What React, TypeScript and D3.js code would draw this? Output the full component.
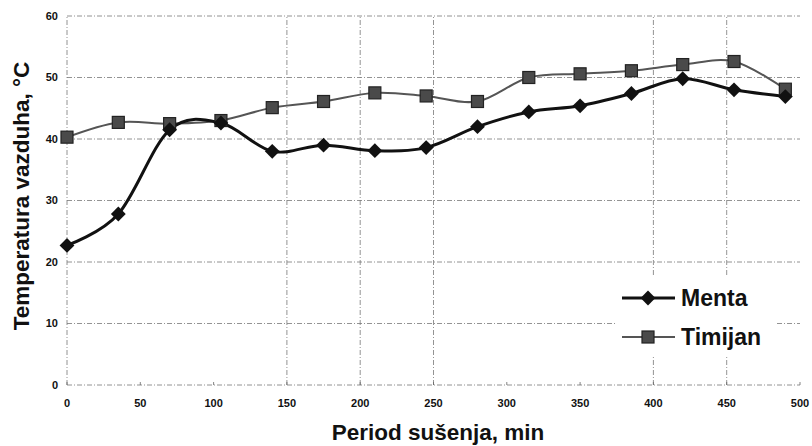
import React, { useEffect } from 'react';
import * as d3 from 'd3';

// drying time, min
const minutes = [0, 35, 70, 105, 140, 175, 210, 245, 280, 315, 350, 385, 420, 455, 490];
const menta = [22.7, 27.8, 41.5, 42.6, 38.0, 39.0, 38.1, 38.6, 42.0, 44.4, 45.4, 47.4, 49.8, 48.0, 46.9];
const timijan = [40.3, 42.7, 42.5, 43.0, 45.1, 46.1, 47.5, 47.0, 46.1, 50.0, 50.6, 51.1, 52.1, 52.6, 48.1];

const xTicks = [0, 50, 100, 150, 200, 250, 300, 350, 400, 450, 500];
const yTicks = [0, 10, 20, 30, 40, 50, 60];
// only these vertical grid lines are visible in the original
const xGrid = [0, 150, 200, 250, 400, 450];

const W = 812;
const H = 446;
const font = '"Liberation Sans", Arial, sans-serif';

export default function App() {
  useEffect(() => {
    document.body.style.margin = '0';
  }, []);

  const x = d3.scaleLinear().domain([0, 500]).range([67, 800]);
  const y = d3.scaleLinear().domain([0, 60]).range([385, 16]);

  const line = d3
    .line<number>()
    .x((_, i) => x(minutes[i]))
    .y((d) => y(d))
    .curve(d3.curveCatmullRom.alpha(0));

  const gridStyle = { stroke: '#777', strokeWidth: 0.8, strokeDasharray: '5,2,1,2' };
  const diamond = d3.symbol(d3.symbolDiamond2, 140)();
  const sq = 12;

  return (
    <svg width={W} height={H} style={{ display: 'block', background: '#fff' }} fontFamily={font}>
      {/* grid */}
      {yTicks.map((t) => (
        <line key={'h' + t} x1={x(0)} x2={x(500)} y1={y(t)} y2={y(t)} {...gridStyle} />
      ))}
      {xGrid.map((t) => (
        <line key={'v' + t} x1={x(t)} x2={x(t)} y1={y(0)} y2={y(60)} {...gridStyle} />
      ))}
      {xTicks.map((t) => (
        <line key={'xt' + t} x1={x(t)} x2={x(t)} y1={y(0)} y2={y(0) - 3} stroke="#666" strokeWidth={0.8} />
      ))}

      {/* tick labels */}
      {yTicks.map((t) => (
        <text key={'yl' + t} x={58} y={y(t)} dy="0.35em" textAnchor="end" fontSize={11} fontWeight="bold" fill="#111">
          {t}
        </text>
      ))}
      {xTicks.map((t) => (
        <text key={'xl' + t} x={x(t)} y={403} dy="0.35em" textAnchor="middle" fontSize={11} fontWeight="bold" fill="#111">
          {t}
        </text>
      ))}

      {/* series */}
      <path d={line(timijan) || ''} fill="none" stroke="#555" strokeWidth={2} />
      <path d={line(menta) || ''} fill="none" stroke="#111" strokeWidth={3} />
      {timijan.map((v, i) => (
        <rect key={'s' + i} x={x(minutes[i]) - sq / 2} y={y(v) - sq / 2} width={sq} height={sq}
          fill="#4a4a4a" stroke="#222" strokeWidth={1.2} />
      ))}
      {menta.map((v, i) => (
        <path key={'d' + i} d={diamond || ''} transform={`translate(${x(minutes[i])},${y(v)})`} fill="#111" />
      ))}

      {/* legend */}
      <rect x={615} y={277} width={160} height={78} fill="#fff" />
      <line x1={622} x2={675} y1={298} y2={298} stroke="#111" strokeWidth={3} />
      <path d={diamond || ''} transform="translate(648,298)" fill="#111" />
      <text x={681} y={298} dy="0.35em" fontSize={23} fontWeight="bold" fill="#111">Menta</text>
      <line x1={622} x2={675} y1={337} y2={337} stroke="#555" strokeWidth={2} />
      <rect x={648 - sq / 2} y={337 - sq / 2} width={sq} height={sq} fill="#4a4a4a" stroke="#222" strokeWidth={1.2} />
      <text x={681} y={337} dy="0.35em" fontSize={23} fontWeight="bold" fill="#111">Timijan</text>

      {/* axis titles */}
      <text x={438} y={432} dy="0.35em" textAnchor="middle" fontSize={22.5} fontWeight="bold" fill="#111">
        Period sušenja, min
      </text>
      <text transform="translate(21,196) rotate(-90)" dy="0.35em" textAnchor="middle" fontSize={22.5} fontWeight="bold" fill="#111">
        Temperatura vazduha, °C
      </text>
    </svg>
  );
}
